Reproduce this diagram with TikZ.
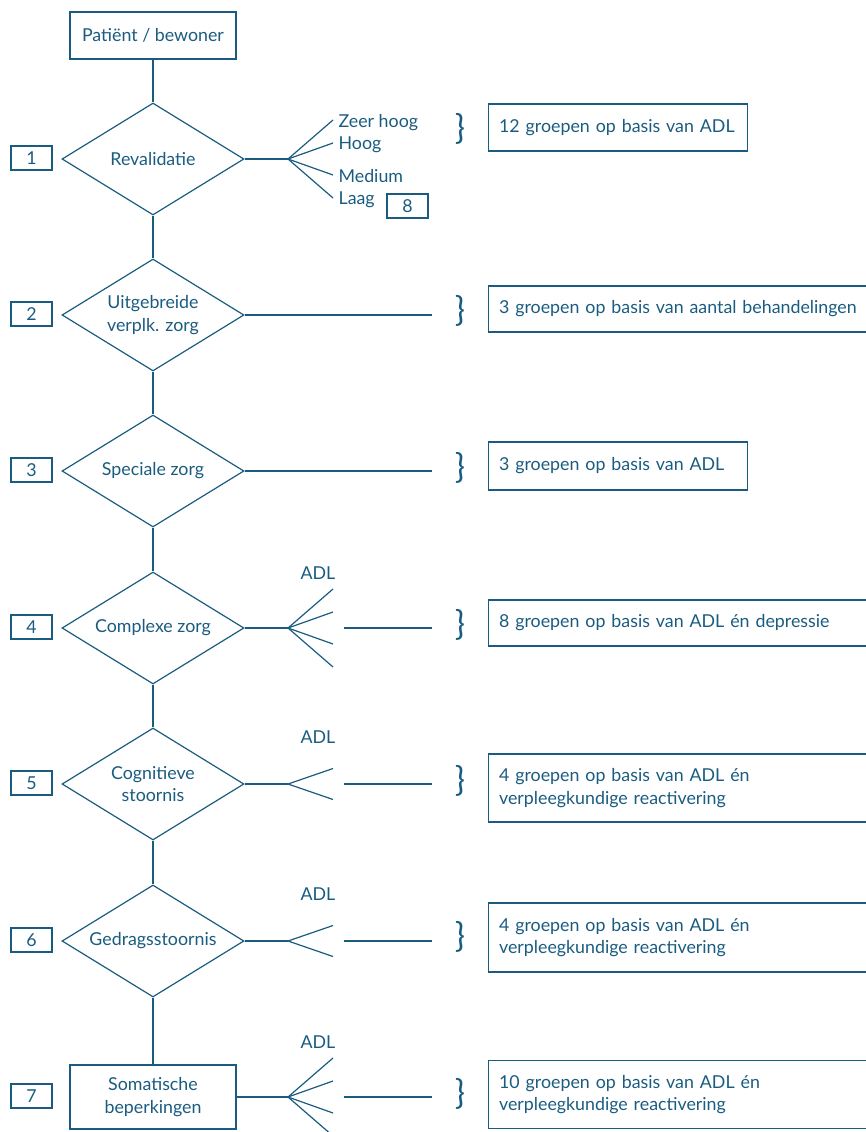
\documentclass[tikz,border=0pt]{standalone}
\usepackage{fontspec}
\setmainfont{Lato}
\usetikzlibrary{shapes.geometric,decorations.pathreplacing}
\definecolor{ink}{HTML}{1A5C80}
\begin{document}
\begin{tikzpicture}[x=1pt,y=-1pt,line width=1.2pt,draw=ink,
  every node/.style={text=ink,font=\fontsize{17.8}{22.5}\selectfont},
  dia/.style={draw,diamond,minimum width=182pt,minimum height=112pt,inner sep=0pt,aspect=1.625,align=center},
  numbox/.style={draw,minimum width=41pt,minimum height=24pt,inner sep=0pt},
  mainbox/.style={draw,minimum width=166pt,align=center,inner sep=0pt},
  infobox/.style={draw,anchor=west,align=left,inner xsep=10.5pt,inner ysep=0pt},
  narrow/.style={text width=238pt},
  wide/.style={text width=372pt},
  lbl/.style={anchor=base west,inner sep=0pt},
  adl/.style={anchor=base,inner sep=0pt},
  brc/.style={inner sep=0pt,font=\fontsize{34}{34}\selectfont}]
\useasboundingbox (0,0) rectangle (866,1132);

% main column
\node[mainbox,minimum height=47pt] (p) at (153,35.5) {Patiënt / bewoner};
\node[dia] (d1) at (153,159) {Revalidatie};
\node[dia] (d2) at (153,315) {Uitgebreide\\verplk. zorg};
\node[dia] (d3) at (153,471) {Speciale zorg};
\node[dia] (d4) at (153,628) {Complexe zorg};
\node[dia] (d5) at (153,784) {Cognitieve\\stoornis};
\node[dia] (d6) at (153,941) {Gedragsstoornis};
\node[mainbox,minimum height=64pt] (d7) at (153,1097) {Somatische\\beperkingen};
\draw (p) -- (d1);
\draw (d1) -- (d2);
\draw (d2) -- (d3);
\draw (d3) -- (d4);
\draw (d4) -- (d5);
\draw (d5) -- (d6);
\draw (d6) -- (d7);

% number boxes
\node[numbox] (n1) at (31.5,158) {1};
\node[numbox] (n2) at (31.5,314) {2};
\node[numbox] (n3) at (31.5,470) {3};
\node[numbox] (n4) at (31.5,627) {4};
\node[numbox] (n5) at (31.5,783) {5};
\node[numbox] (n6) at (31.5,940) {6};
\node[numbox] (n7) at (31.5,1096) {7};

% item 1 fan
\coordinate (f1) at (288,159);
\coordinate (e1a) at (333,120);
\coordinate (e1b) at (333,143);
\coordinate (e1c) at (333,175);
\coordinate (e1d) at (333,198);
\draw (d1.east) -- (f1);
\draw (f1) -- (e1a);
\draw (f1) -- (e1b);
\draw (f1) -- (e1c);
\draw (f1) -- (e1d);
\node[lbl] (l1a) at (338,127) {Zeer hoog};
\node[lbl] (l1b) at (338,149) {Hoog};
\node[lbl] (l1c) at (338,182) {Medium};
\node[lbl] (l1d) at (338,204) {Laag};
\node[numbox] (n8) at (407.5,206) {8};

% items 2 and 3
\coordinate (g2) at (432,315);
\coordinate (g3) at (432,471);
\draw (d2.east) -- (g2);
\draw (d3.east) -- (g3);

% item 4 fan
\coordinate (f4) at (288,628);
\coordinate (e4a) at (333,589);
\coordinate (e4b) at (333,612);
\coordinate (e4c) at (333,644);
\coordinate (e4d) at (333,667);
\coordinate (s4) at (344,628);
\coordinate (g4) at (432,628);
\draw (d4.east) -- (f4);
\draw (f4) -- (e4a);
\draw (f4) -- (e4b);
\draw (f4) -- (e4c);
\draw (f4) -- (e4d);
\draw (s4) -- (g4);
\node[adl] (a4) at (318,579) {ADL};

% item 5 fan
\coordinate (f5) at (288,784);
\coordinate (e5a) at (333,768.5);
\coordinate (e5b) at (333,799.5);
\coordinate (s5) at (344,784);
\coordinate (g5) at (432,784);
\draw (d5.east) -- (f5);
\draw (f5) -- (e5a);
\draw (f5) -- (e5b);
\draw (s5) -- (g5);
\node[adl] (a5) at (318,743) {ADL};

% item 6 fan
\coordinate (f6) at (288,941);
\coordinate (e6a) at (333,925.5);
\coordinate (e6b) at (333,956.5);
\coordinate (s6) at (344,941);
\coordinate (g6) at (432,941);
\draw (d6.east) -- (f6);
\draw (f6) -- (e6a);
\draw (f6) -- (e6b);
\draw (s6) -- (g6);
\node[adl] (a6) at (318,900) {ADL};

% item 7 fan
\coordinate (f7) at (288,1097);
\coordinate (e7a) at (333,1058);
\coordinate (e7b) at (333,1081);
\coordinate (e7c) at (333,1113);
\coordinate (e7d) at (333,1136);
\coordinate (s7) at (344,1097);
\coordinate (g7) at (432,1097);
\draw (d7.east) -- (f7);
\draw (f7) -- (e7a);
\draw (f7) -- (e7b);
\draw (f7) -- (e7c);
\draw (f7) -- (e7d);
\draw (s7) -- (g7);
\node[adl] (a7) at (318,1048) {ADL};

% braces
\node[brc] (k1) at (460,129) {\}};
\node[brc] (k2) at (460,311) {\}};
\node[brc] (k3) at (460,468) {\}};
\node[brc] (k4) at (460,625) {\}};
\node[brc] (k5) at (460,781) {\}};
\node[brc] (k6) at (460,937) {\}};
\node[brc] (k7) at (460,1094) {\}};

% info boxes
\node[infobox,narrow,minimum height=47pt] (b1) at (488,127.5) {12 groepen op basis van ADL};
\node[infobox,wide,minimum height=46pt] (b2) at (488,309) {3 groepen op basis van aantal behandelingen};
\node[infobox,narrow,minimum height=48pt] (b3) at (488,466) {3 groepen op basis van ADL};
\node[infobox,wide,minimum height=46pt] (b4) at (488,623) {8 groepen op basis van ADL én depressie};
\node[infobox,wide,minimum height=68pt] (b5) at (488,788) {4 groepen op basis van ADL én\\verpleegkundige reactivering};
\node[infobox,wide,minimum height=69pt] (b6) at (488,937.5) {4 groepen op basis van ADL én\\verpleegkundige reactivering};
\node[infobox,wide,minimum height=68pt] (b7) at (488,1094.5) {10 groepen op basis van ADL én\\verpleegkundige reactivering};
\end{tikzpicture}
\end{document}
